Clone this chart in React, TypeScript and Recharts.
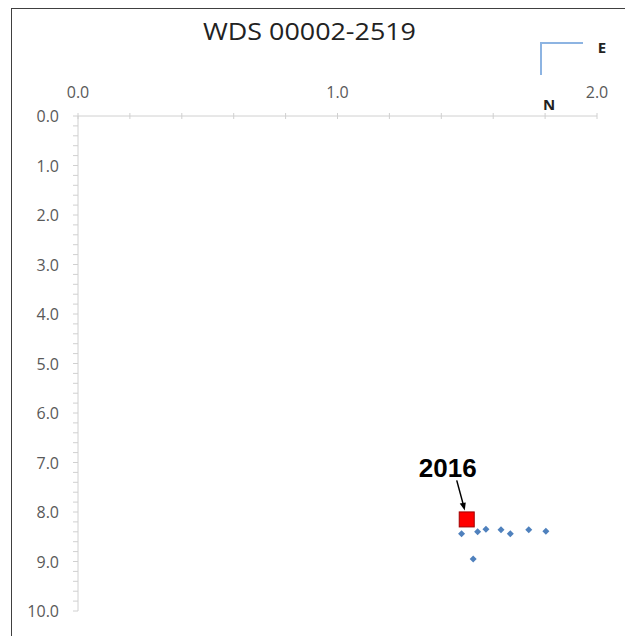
import React from "react";
import { ScatterChart, Scatter, XAxis, YAxis } from "recharts";

// separation measures (arcsec), E on x, N on y (downward)
const obsX = [1.478, 1.54, 1.572, 1.63, 1.666, 1.737, 1.803, 1.523];
const obsY = [8.44, 8.4, 8.35, 8.36, 8.44, 8.36, 8.39, 8.95];
const latestX = [1.498];
const latestY = [8.15];
const latestLabel = "2016";

const xMajor = [0, 1, 2];
const yMajor = [0, 1, 2, 3, 4, 5, 6, 7, 8, 9, 10];

const minorTicks = (max: number) =>
  Array.from({ length: Math.round(max / 0.2) + 1 }, (_, i) => Math.round(i * 2) / 10);

const isMajor = (v: number, majors: number[]) => majors.some((m) => Math.abs(m - v) < 1e-6);

const obsData = obsX.map((x, i) => ({ x, y: obsY[i] }));
const latestData = latestX.map((x, i) => ({ x, y: latestY[i] }));

const LABEL_FONT = "'Open Sans', sans-serif";
const AXIS_COLOR = "#d0d0d0";
const TEXT_COLOR = "#595959";

const XTick = (props: any) => {
  const { x, y, payload } = props;
  const major = isMajor(payload.value, xMajor);
  return (
    <g>
      <line x1={x} x2={x} y1={y - 3} y2={y + 3} stroke={AXIS_COLOR} />
      {major && (
        <text x={x} y={y - 18} textAnchor="middle" fontSize={16} fontFamily={LABEL_FONT} fill={TEXT_COLOR}>
          {payload.value.toFixed(1)}
        </text>
      )}
    </g>
  );
};

const YTick = (props: any) => {
  const { x, y, payload } = props;
  const major = isMajor(payload.value, yMajor);
  return (
    <g>
      <line x1={x - 5} x2={x} y1={y} y2={y} stroke={AXIS_COLOR} />
      {major && (
        <text x={x - 19} y={y + 6} textAnchor="end" fontSize={16} fontFamily={LABEL_FONT} fill={TEXT_COLOR}>
          {payload.value.toFixed(1)}
        </text>
      )}
    </g>
  );
};

const Diamond = (props: any) => {
  const { cx, cy } = props;
  const r = 3.5;
  return (
    <path
      d={`M${cx},${cy - r}L${cx + r},${cy}L${cx},${cy + r}L${cx - r},${cy}Z`}
      fill="#4f81bd"
    />
  );
};

const LatestSquare = (props: any) => {
  const { cx, cy } = props;
  const s = 15;
  return (
    <g>
      <rect x={cx - s / 2} y={cy - s / 2} width={s} height={s} fill="#ff0000" stroke="#a00000" strokeWidth={1} />
      <text
        x={cx - 19}
        y={cy - 42}
        textAnchor="middle"
        fontSize={26}
        fontWeight="bold"
        fontFamily="'Liberation Sans', Arial, sans-serif"
        fill="#000"
      >
        {latestLabel}
      </text>
      <line x1={cx - 10} y1={cy - 39} x2={cx - 3.5} y2={cy - 15} stroke="#000" strokeWidth={1.5} />
      <path d={`M${cx - 2},${cy - 9}L${cx - 7},${cy - 16}L${cx - 1},${cy - 17}Z`} fill="#000" />
    </g>
  );
};

export default function App() {
  return (
    <div
      style={{
        position: "relative",
        marginLeft: 3,
        width: 621,
        height: 640,
        boxSizing: "border-box",
        border: "1.5px solid #404040",
        background: "#fff",
      }}
    >
      <div style={{ position: "absolute", left: 0, top: 0 }}>
        <ScatterChart width={619} height={630} margin={{ top: 77, right: 34, bottom: 28, left: 16 }}>
          <XAxis
            type="number"
            dataKey="x"
            orientation="top"
            domain={[0, 2]}
            ticks={minorTicks(2)}
            interval={0}
            height={30}
            tickSize={0}
            tickMargin={0}
            tick={<XTick />}
            axisLine={{ stroke: AXIS_COLOR }}
            allowDataOverflow
          />
          <YAxis
            type="number"
            dataKey="y"
            reversed
            domain={[0, 10]}
            ticks={minorTicks(10)}
            interval={0}
            width={50}
            tickSize={0}
            tickMargin={0}
            tick={<YTick />}
            axisLine={{ stroke: AXIS_COLOR }}
            allowDataOverflow
          />
          <Scatter data={obsData} shape={<Diamond />} isAnimationActive={false} />
          <Scatter data={latestData} shape={<LatestSquare />} isAnimationActive={false} />
        </ScatterChart>
      </div>
      <svg width={619} height={120} style={{ position: "absolute", left: 0, top: 0, pointerEvents: "none" }}>
        <text
          x={297.5}
          y={31}
          textAnchor="middle"
          fontSize={24}
          fontFamily="'Open Sans', sans-serif"
          fill="#222"
          textLength={213}
          lengthAdjust="spacingAndGlyphs"
        >
          WDS 00002-2519
        </text>
        <polyline points="571,34 529,34 529,66" fill="none" stroke="#8db4e2" strokeWidth={2} />
        <text x={590} y={44} textAnchor="middle" fontSize={15} fontWeight="bold" fontFamily={LABEL_FONT} fill="#222">
          E
        </text>
        <text x={537} y={101} textAnchor="middle" fontSize={15} fontWeight="bold" fontFamily={LABEL_FONT} fill="#222">
          N
        </text>
      </svg>
    </div>
  );
}
